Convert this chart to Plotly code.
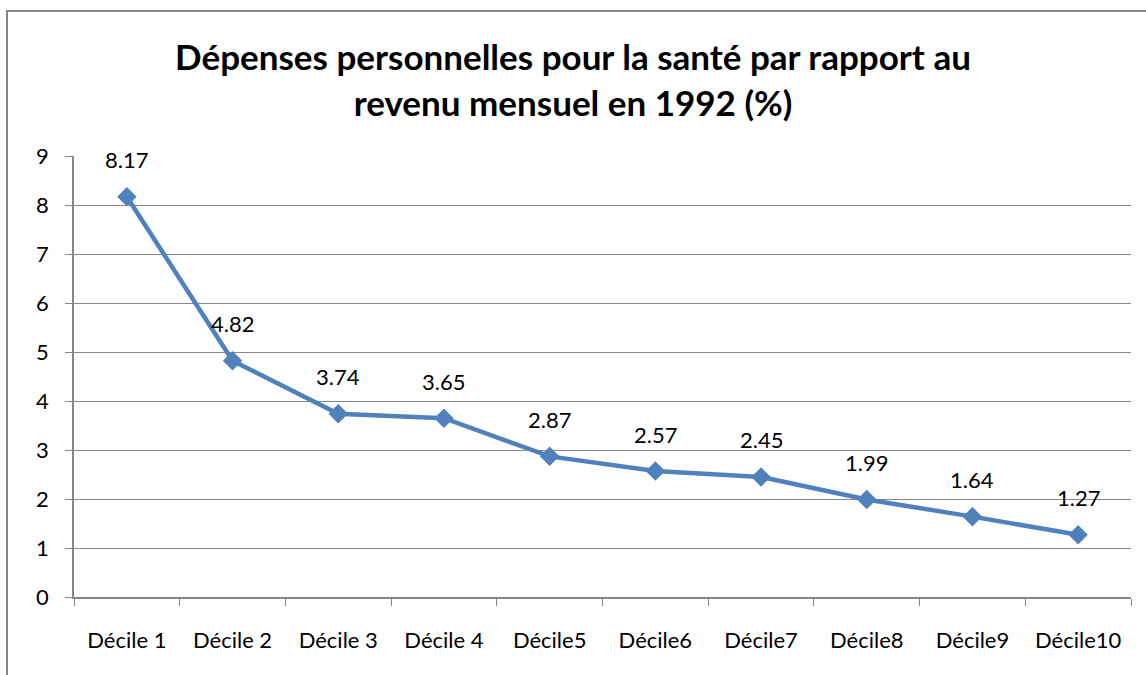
import plotly.graph_objects as go

categories = ["Décile 1", "Décile 2", "Décile 3", "Décile 4", "Décile5",
              "Décile6", "Décile7", "Décile8", "Décile9", "Décile10"]
values = [8.17, 4.82, 3.74, 3.65, 2.87, 2.57, 2.45, 1.99, 1.64, 1.27]
y_ticks = [0, 1, 2, 3, 4, 5, 6, 7, 8, 9]
title_text = "Dépenses personnelles pour la santé par rapport au<br>revenu mensuel en 1992 (%)"

FONT = "Lato, Carlito, Calibri, sans-serif"
GRID = "#868686"
LINE = "#4F81BD"

fig = go.Figure()
fig.add_trace(go.Scatter(
    x=categories, y=values, mode="lines+markers",
    line=dict(color=LINE, width=4.5),
    marker=dict(symbol="diamond", size=15, color=LINE),
    showlegend=False, hoverinfo="x+y",
))

for c, v in zip(categories, values):
    fig.add_annotation(x=c, y=v, text=f"{v:.2f}", showarrow=False,
                       yshift=37, font=dict(family=FONT, size=22, color="black"))

W, H = 1146, 675
L, R, T, B = 74, 15, 156, 78
pw, ph = W - L - R, H - T - B

fig.update_layout(
    width=W, height=H,
    margin=dict(l=L, r=R, t=T, b=B, autoexpand=False),
    paper_bgcolor="white", plot_bgcolor="white",
    title=dict(text=title_text, x=0.5, xanchor="center", y=1 - 70 / H, yanchor="middle",
               font=dict(family=FONT, size=35, color="black", weight="bold")),
    xaxis=dict(
        type="category", tickson="boundaries", ticks="outside", ticklen=7,
        range=[-0.5, len(categories) - 0.5],
        tickcolor=GRID, showline=True, linecolor=GRID, linewidth=1.5,
        showgrid=False, automargin=False,
        tickfont=dict(family=FONT, size=22, color="black"),
        ticklabelstandoff=23,
    ),
    yaxis=dict(
        range=[0, 9], tickvals=y_ticks, ticks="outside", ticklen=7,
        tickcolor=GRID, showline=True, linecolor=GRID, linewidth=1.5,
        showgrid=True, gridcolor=GRID, gridwidth=1.2, zeroline=False,
        automargin=False,
        tickfont=dict(family=FONT, size=22, color="black"),
        ticklabelstandoff=12,
    ),
    shapes=[dict(type="rect", xref="paper", yref="paper",
                 x0=(7 - L) / pw, x1=1.2, y0=-0.5, y1=(H - B - 11) / ph,
                 line=dict(color=GRID, width=2), fillcolor="rgba(0,0,0,0)", layer="below")],
)

fig.write_html("out.html", config={"displayModeBar": False},
               post_script="document.body.style.margin='0';document.body.style.overflow='hidden';")
